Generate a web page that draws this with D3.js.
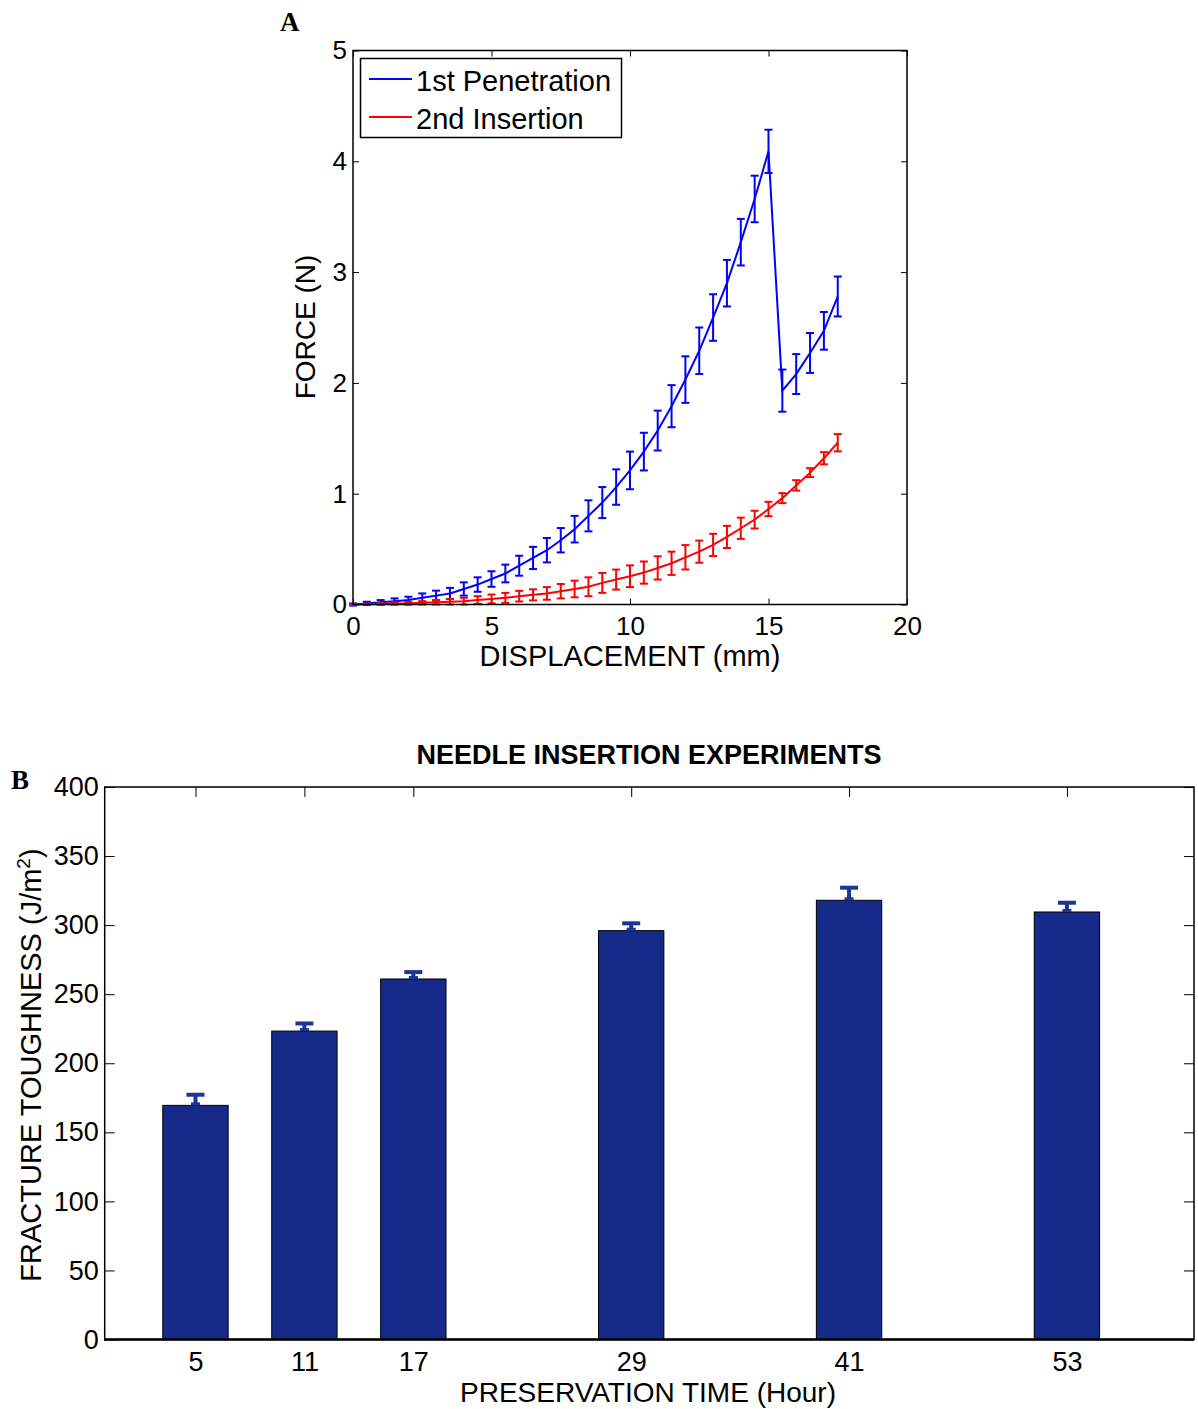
<!DOCTYPE html>
<html>
<head>
<meta charset="utf-8">
<script src="https://cdn.jsdelivr.net/npm/d3@7/dist/d3.min.js"></script>
<style>
  body { margin: 0; background: #fff; }
  svg text { font-family: "Liberation Sans", Arial, sans-serif; fill: #000; }
</style>
</head>
<body>
<script>
// panel A data : force vs displacement
var dispMM = [0, 0.5, 1, 1.5, 2, 2.5, 3, 3.5, 4, 4.5, 5, 5.5, 6, 6.5, 7, 7.5, 8, 8.5,
  9, 9.5, 10, 10.5, 11, 11.5, 12, 12.5, 13, 13.5, 14, 14.5, 15, 15.5, 16, 16.5, 17, 17.5];
var penForce = [0, 0.01, 0.02, 0.03, 0.04, 0.06, 0.08, 0.10, 0.14, 0.18, 0.23, 0.28, 0.35, 0.42, 0.49, 0.58, 0.68, 0.80,
  0.92, 1.06, 1.21, 1.38, 1.57, 1.79, 2.03, 2.29, 2.59, 2.90, 3.27, 3.66, 4.09, 1.93, 2.08, 2.27, 2.47, 2.78];
var penErr = [0.01, 0.015, 0.02, 0.025, 0.03, 0.04, 0.045, 0.05, 0.06, 0.065, 0.07, 0.08, 0.09, 0.10, 0.11, 0.11, 0.12, 0.14,
  0.14, 0.16, 0.17, 0.17, 0.18, 0.19, 0.21, 0.21, 0.21, 0.21, 0.21, 0.21, 0.195, 0.19, 0.18, 0.18, 0.17, 0.18];
var insForce = [0, 0.003, 0.005, 0.008, 0.01, 0.015, 0.02, 0.025, 0.03, 0.04, 0.05, 0.06, 0.075, 0.087, 0.10, 0.12, 0.14, 0.16,
  0.195, 0.225, 0.255, 0.288, 0.33, 0.372, 0.426, 0.477, 0.538, 0.61, 0.688, 0.766, 0.862, 0.96, 1.075, 1.19, 1.32, 1.46];
var insErr = [0.005, 0.005, 0.008, 0.01, 0.012, 0.015, 0.02, 0.025, 0.03, 0.035, 0.04, 0.045, 0.048, 0.05, 0.057, 0.065, 0.075, 0.085,
  0.09, 0.09, 0.098, 0.1, 0.105, 0.105, 0.11, 0.1, 0.1, 0.1, 0.096, 0.08, 0.065, 0.045, 0.047, 0.04, 0.055, 0.078];
var seriesNames = ['1st Penetration', '2nd Insertion'];
var forceTicks = [0, 1, 2, 3, 4, 5];
var dispTicks = [0, 5, 10, 15, 20];

// panel B data : fracture toughness vs preservation time
var hours = [5, 11, 17, 29, 41, 53];
var toughness = [169.5, 223.3, 261, 296, 318, 309.5];
var toughErr = [7.7, 5.5, 5, 5.3, 9.1, 6.7];
var toughTicks = [0, 50, 100, 150, 200, 250, 300, 350, 400];

var svg = d3.select('body').append('svg').attr('width', 1198).attr('height', 1409);

// ---------- panel A ----------
var xA = d3.scaleLinear().domain([0, 20]).range([353, 907]);
var yA = d3.scaleLinear().domain([0, 5]).range([604.5, 50.5]);

var gA = svg.append('g');

function boxTicks(g, x, y, xt, yt, len, fs, dx, dy) {
  var fmt = d3.format('d');
  g.append('g').attr('transform', 'translate(0,' + y.range()[0] + ')')
    .call(d3.axisBottom(x).tickValues(xt).tickFormat(fmt).tickSizeInner(-len).tickSizeOuter(0).tickPadding(dy))
    .call(function (a) { a.select('.domain').remove(); a.selectAll('text').style('font-size', fs + 'px'); });
  g.append('g').attr('transform', 'translate(0,' + y.range()[1] + ')')
    .call(d3.axisTop(x).tickValues(xt).tickSizeInner(-len).tickSizeOuter(0).tickFormat(''))
    .call(function (a) { a.select('.domain').remove(); });
  g.append('g').attr('transform', 'translate(' + x.range()[0] + ',0)')
    .call(d3.axisLeft(y).tickValues(yt).tickFormat(fmt).tickSizeInner(-len).tickSizeOuter(0).tickPadding(dx))
    .call(function (a) { a.select('.domain').remove(); a.selectAll('text').style('font-size', fs + 'px'); });
  g.append('g').attr('transform', 'translate(' + x.range()[1] + ',0)')
    .call(d3.axisRight(y).tickValues(yt).tickSizeInner(-len).tickSizeOuter(0).tickFormat(''))
    .call(function (a) { a.select('.domain').remove(); });
  g.selectAll('.tick line').attr('stroke', '#000').attr('stroke-width', 1);
  g.selectAll('.tick text').attr('fill', '#000');
}

boxTicks(gA, xA, yA, dispTicks, forceTicks, 6, 26, 6, 12);

function drawSeries(g, xs, ys, es, color) {
  var line = d3.line().x(function (d, i) { return xA(xs[i]); }).y(function (d) { return yA(d); });
  g.append('path').datum(ys).attr('d', line)
    .attr('fill', 'none').attr('stroke', color).attr('stroke-width', 2);
  var eb = g.append('g').attr('stroke', color).attr('stroke-width', 2).attr('fill', 'none');
  ys.forEach(function (v, i) {
    var cx = xA(xs[i]), y0 = yA(v - es[i]), y1 = yA(v + es[i]);
    eb.append('line').attr('x1', cx).attr('x2', cx).attr('y1', y0).attr('y2', y1);
    eb.append('line').attr('x1', cx - 4).attr('x2', cx + 4).attr('y1', y0).attr('y2', y0);
    eb.append('line').attr('x1', cx - 4).attr('x2', cx + 4).attr('y1', y1).attr('y2', y1);
  });
}
drawSeries(gA, dispMM, penForce, penErr, '#0000ff');
drawSeries(gA, dispMM, insForce, insErr, '#ff0000');

gA.append('rect').attr('x', 353).attr('y', 50.5).attr('width', 554).attr('height', 554)
  .attr('fill', 'none').attr('stroke', '#000').attr('stroke-width', 1.5);

// legend
var leg = gA.append('g');
leg.append('rect').attr('x', 360.5).attr('y', 58.5).attr('width', 261).attr('height', 79)
  .attr('fill', '#fff').attr('stroke', '#000').attr('stroke-width', 1.5);
['#0000ff', '#ff0000'].forEach(function (c, i) {
  leg.append('line').attr('x1', 369).attr('x2', 412).attr('y1', 79 + i * 38).attr('y2', 79 + i * 38)
    .attr('stroke', c).attr('stroke-width', 2);
  leg.append('text').attr('x', 416).attr('y', 91 + i * 38).style('font-size', '29px').text(seriesNames[i]);
});

gA.append('text').attr('x', 630).attr('y', 666).attr('text-anchor', 'middle')
  .style('font-size', '29px').text('DISPLACEMENT (mm)');
gA.append('text').attr('transform', 'translate(315,327) rotate(-90)').attr('text-anchor', 'middle')
  .style('font-size', '28px').text('FORCE (N)');
gA.append('text').attr('x', 280).attr('y', 31).style('font-family', '"Liberation Serif", "Times New Roman", serif')
  .style('font-weight', 'bold').style('font-size', '27px').text('A');

// ---------- panel B ----------
var xB = d3.scaleLinear().domain([0, 60]).range([104.7, 1194]);
var yB = d3.scaleLinear().domain([0, 400]).range([1339.5, 787]);
var gB = svg.append('g');

boxTicks(gB, xB, yB, hours, toughTicks, 10, 27, 6, 12);

var barW = xB(3.6) - xB(0);
gB.selectAll('rect.bar').data(toughness).enter().append('rect').attr('class', 'bar')
  .attr('x', function (d, i) { return xB(hours[i]) - barW / 2; })
  .attr('y', function (d) { return yB(d); })
  .attr('width', barW)
  .attr('height', function (d) { return yB(0) - yB(d); })
  .attr('fill', '#152a89').attr('stroke', '#000').attr('stroke-width', 1);

// upper error bars only
var ebB = gB.append('g').attr('stroke', '#1c3696').attr('fill', 'none');
toughness.forEach(function (v, i) {
  var cx = xB(hours[i]), y0 = yB(v), y1 = yB(v + toughErr[i]);
  ebB.append('line').attr('x1', cx).attr('x2', cx).attr('y1', y0).attr('y2', y1).attr('stroke-width', 4);
  ebB.append('line').attr('x1', cx - 9).attr('x2', cx + 9).attr('y1', y1).attr('y2', y1).attr('stroke-width', 4);
  ebB.append('line').attr('x1', cx - 4.5).attr('x2', cx + 4.5).attr('y1', y0 - 1.5).attr('y2', y0 - 1.5).attr('stroke-width', 3);
});

gB.append('rect').attr('x', 104.7).attr('y', 787).attr('width', 1194 - 104.7).attr('height', 1339.5 - 787)
  .attr('fill', 'none').attr('stroke', '#000').attr('stroke-width', 1.5);
gB.append('line').attr('x1', 104).attr('x2', 1194).attr('y1', 1339.5).attr('y2', 1339.5)
  .attr('stroke', '#000').attr('stroke-width', 2.5);

gB.append('text').attr('x', 649).attr('y', 764).attr('text-anchor', 'middle')
  .style('font-size', '27px').style('font-weight', 'bold').text('NEEDLE INSERTION EXPERIMENTS');
gB.append('text').attr('x', 648).attr('y', 1402).attr('text-anchor', 'middle')
  .style('font-size', '28px').text('PRESERVATION TIME (Hour)');
var yl = gB.append('text').attr('transform', 'translate(41,1065) rotate(-90)').attr('text-anchor', 'middle')
  .style('font-size', '29px');
yl.append('tspan').text('FRACTURE TOUGHNESS (J/m');
yl.append('tspan').attr('dy', -11).style('font-size', '19px').text('2');
yl.append('tspan').attr('dy', 11).text(')');
gB.append('text').attr('x', 11).attr('y', 789).style('font-family', '"Liberation Serif", "Times New Roman", serif')
  .style('font-weight', 'bold').style('font-size', '27px').text('B');
</script>
</body>
</html>
